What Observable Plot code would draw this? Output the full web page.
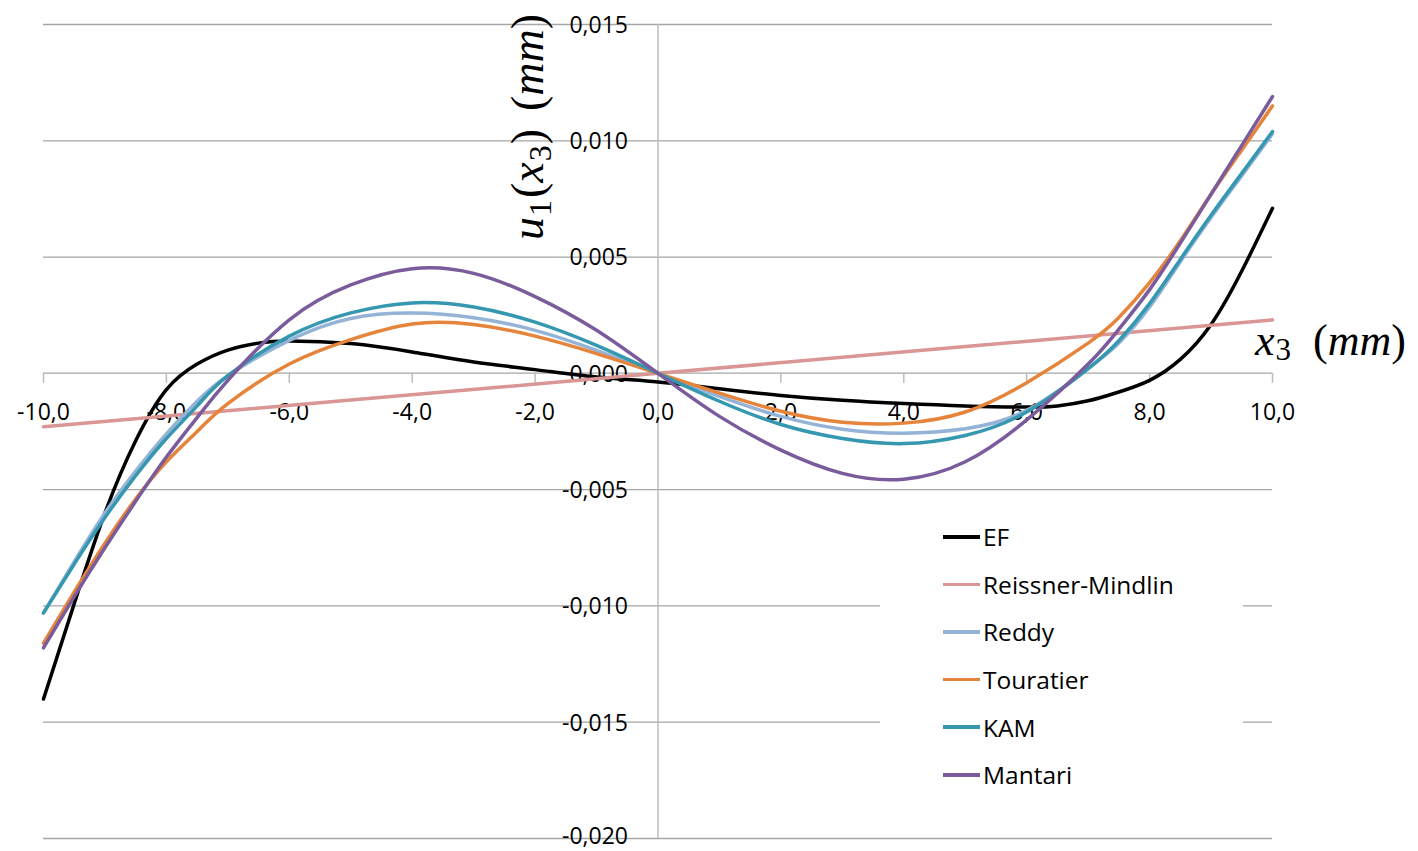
<!DOCTYPE html>
<html><head><meta charset="utf-8">
<script src="https://cdn.jsdelivr.net/npm/d3@7"></script>
<script src="https://cdn.jsdelivr.net/npm/@observablehq/plot@0.6"></script>
<style>
body{margin:0;background:#fff;}
#wrap{position:relative;width:1418px;height:851px;overflow:hidden;}
#legend{position:absolute;left:880px;top:505px;width:363px;height:300px;background:#fff;font-family:'Open Sans',Lato,sans-serif;font-size:24.5px;color:#000;box-sizing:border-box;padding-left:63px;padding-top:8px;}
.row{height:47.6px;display:flex;align-items:center;}
.sw{width:37px;height:3.5px;margin-right:3px;flex:none;}
</style></head><body><div id="wrap"></div>
<script>
const xTicks = [-10,-8,-6,-4,-2,0,2,4,6,8,10];
const xTickLabels = ["-10,0","-8,0","-6,0","-4,0","-2,0","0,0","2,0","4,0","6,0","8,0","10,0"];
const yTicks = [0.015,0.010,0.005,0,-0.005,-0.010,-0.015,-0.020];
const yTickLabels = ["0,015","0,010","0,005","0,000","-0,005","-0,010","-0,015","-0,020"];
const seriesNames = ["EF","Reissner-Mindlin","Reddy","Touratier","KAM","Mantari"];
const seriesColors = ["#000000","#d99694","#95b3d7","#e5843a","#3598b0","#7a5b9c"];

const xEF = [-10,-9.5,-9,-8.5,-8,-7.5,-7,-6.5,-6,-5,-4,-3,-2,-1,0,1,2,3,4,5,6,6.5,7,7.5,8,8.5,9,9.5,10];
const ef  = [-0.0140,-0.0099,-0.0060,-0.0029,-0.0007,0.0004,0.0010,0.0013,0.00139,0.00128,0.00092,0.00049,0.00016,-0.00016,-0.00037,-0.00066,-0.00095,-0.00116,-0.0013,-0.0014,-0.00145,-0.0014,-0.00118,-0.0008,-0.0003,0.0006,0.0021,0.0044,0.0071];

const xRM = [-10,0,10];
const reissnerMindlin = [-0.0023,0,0.0023];

const xTheory = [-10,-9.5,-9,-8.5,-8,-7.5,-7,-6,-5,-4,-3,-2,-1,0,1,2,3,4,5,6,7,7.5,8,8.5,9,9.5,10];
const reddy     = [-0.0103,-0.0081,-0.0060,-0.0042,-0.0026,-0.0012,-0.0001,0.00142,0.00236,0.00259,0.00239,0.00185,0.00099,0,-0.00099,-0.00185,-0.0024,-0.00257,-0.00238,-0.00159,0.0002,0.0013,0.00285,0.0048,0.0067,0.0085,0.0103];
const touratier = [-0.0116,-0.0094,-0.0073,-0.0054,-0.0038,-0.0025,-0.0013,0.0004,0.00145,0.00212,0.0021,0.0016,0.00085,0,-0.00085,-0.00163,-0.0021,-0.00214,-0.00166,-0.0004,0.0013,0.0024,0.0039,0.0057,0.0077,0.0096,0.0115];
const kam       = [-0.0103,-0.0082,-0.0062,-0.0044,-0.0028,-0.0014,-0.0001,0.0016,0.0026,0.00303,0.00285,0.0022,0.0012,0,-0.0012,-0.0022,-0.0028,-0.00302,-0.00267,-0.00166,0.0002,0.0014,0.0030,0.0049,0.0068,0.0086,0.0104];
const mantari   = [-0.0118,-0.0096,-0.0075,-0.0055,-0.0036,-0.0019,-0.0003,0.0023,0.0038,0.0045,0.0043,0.0033,0.00185,0,-0.00185,-0.0033,-0.0043,-0.00455,-0.0038,-0.0020,0.0004,0.0019,0.0036,0.0056,0.0077,0.0098,0.0119];

const seriesData = [
  [xEF, ef], [xRM, reissnerMindlin], [xTheory, reddy], [xTheory, touratier], [xTheory, kam], [xTheory, mantari]
];
const rows = seriesData.flatMap(([xs, ys], k) => xs.map((x, i) => ({series: seriesNames[k], x, y: ys[i]})));

const gridColor = "#a6a6a6";
const axisColor = "#bcbcbc";
const tickFont = "'Open Sans', Lato, sans-serif";
const lastY = yTicks.length - 1;

const plot = Plot.plot({
  width: 1418,
  height: 851,
  marginLeft: 43,
  marginRight: 146,
  marginTop: 24,
  marginBottom: 13,
  style: {background: "white", overflow: "visible", fontFamily: tickFont},
  x: {domain: [-10, 10], axis: null},
  y: {domain: [-0.020, 0.015], axis: null},
  color: {domain: seriesNames, range: seriesColors},
  marks: [
    Plot.ruleY(yTicks, {stroke: gridColor, strokeWidth: 1.3}),
    Plot.ruleX([0], {stroke: axisColor, strokeWidth: 1.5}),
    Plot.ruleY([0], {stroke: axisColor, strokeWidth: 1.5}),
    Plot.ruleX(xTicks, {x: d => d, y1: 0, y2: 0, insetBottom: -10, stroke: axisColor, strokeWidth: 1.5}),
    Plot.text(yTicks, {filter: (d, i) => i < lastY, x: 0, y: d => d, text: (d, i) => yTickLabels[i], dx: -30, dy: 1, textAnchor: "end", fontSize: 23, fontFamily: tickFont, fill: "#000"}),
    Plot.text(yTicks, {filter: (d, i) => i === lastY, x: 0, y: d => d, text: (d, i) => yTickLabels[i], dx: -30, dy: -2, textAnchor: "end", fontSize: 23, fontFamily: tickFont, fill: "#000"}),
    Plot.text(xTicks, {x: d => d, y: 0, dy: 39, text: (d, i) => xTickLabels[i], fontSize: 23, fontFamily: tickFont, fill: "#000"}),
    Plot.line(rows, {x: "x", y: "y", z: "series", stroke: "series", strokeWidth: 3.5, curve: "natural"})
  ]
});

const wrap = document.getElementById("wrap");
wrap.appendChild(plot);

const svg = d3.select(plot);
// y axis title (rotated)
const yt = svg.append("text")
  .attr("transform", "translate(543,127) rotate(-90)")
  .attr("text-anchor", "middle")
  .style("font-family", "'Liberation Serif', serif")
  .style("font-size", "46px")
  .attr("fill", "#000");
yt.append("tspan").style("font-style", "italic").text("u");
yt.append("tspan").attr("dy", 8).attr("dx", 1).style("font-size", "32px").text("1");
yt.append("tspan").attr("dy", -8).attr("dx", 2).text("(");
yt.append("tspan").style("font-style", "italic").text("x");
yt.append("tspan").attr("dy", 8).attr("dx", 1).style("font-size", "32px").text("3");
yt.append("tspan").attr("dy", -8).attr("dx", 1).text(")");
yt.append("tspan").attr("dx", 18).text("(");
yt.append("tspan").style("font-style", "italic").text("mm");
yt.append("tspan").text(")");

// x axis title
const xt = svg.append("text")
  .attr("x", 1255).attr("y", 355)
  .attr("text-anchor", "start")
  .style("font-family", "'Liberation Serif', serif")
  .style("font-size", "44px")
  .attr("fill", "#000");
xt.append("tspan").style("font-style", "italic").text("x");
xt.append("tspan").attr("dy", 5).attr("dx", 1).style("font-size", "31px").text("3");
xt.append("tspan").attr("dy", -5).attr("dx", 22).text("(");
xt.append("tspan").style("font-style", "italic").text("mm");
xt.append("tspan").text(")");

// legend
const legend = document.createElement("div");
legend.id = "legend";
seriesNames.forEach((name, i) => {
  const row = document.createElement("div");
  row.className = "row";
  const sw = document.createElement("div");
  sw.className = "sw";
  sw.style.background = seriesColors[i];
  const label = document.createElement("span");
  label.textContent = name;
  row.appendChild(sw);
  row.appendChild(label);
  legend.appendChild(row);
});
wrap.appendChild(legend);
</script></body></html>
